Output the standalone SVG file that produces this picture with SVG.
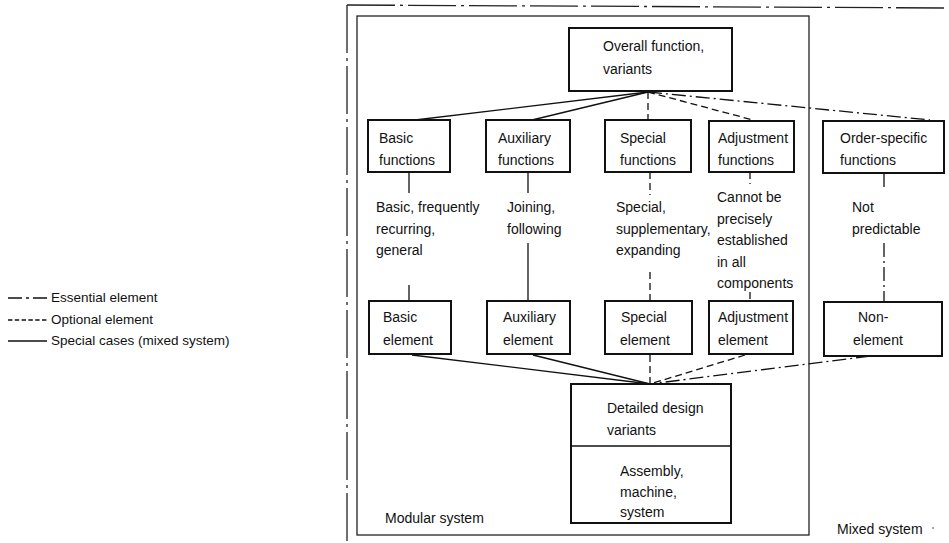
<svg xmlns="http://www.w3.org/2000/svg" width="949" height="543" viewBox="0 0 949 543">
  <style>
    text { font-family: "Liberation Sans", Arial, sans-serif; font-size: 14px; fill: #111; }
    .legend { font-size: 13.5px; }
    .box { fill: #fff; stroke: #111; stroke-width: 2; }
    .frame { fill: none; stroke: #222; stroke-width: 1.3; }
    .solid { fill: none; stroke: #111; stroke-width: 1.3; }
    .dash { fill: none; stroke: #111; stroke-width: 1.3; stroke-dasharray: 7 4; }
    .dashdot { fill: none; stroke: #111; stroke-width: 1.3; stroke-dasharray: 14 4 2 4; }
    .outer { fill: none; stroke: #222; stroke-width: 1.3; stroke-dasharray: 48 5 3 5; }
  </style>

  <!-- Legend -->
  <g id="legend">
    <path class="solid" d="M8 298 H22 M26 298 H29 M33 298 H47" />
    <text class="legend" x="51" y="302">Essential element</text>
    <path class="solid" stroke-dasharray="4.4 2.4" d="M8 320 H47" />
    <text class="legend" x="51" y="324">Optional element</text>
    <path class="solid" d="M8 341 H47" />
    <text class="legend" x="51" y="345">Special cases (mixed system)</text>
  </g>

  <!-- Mixed system frame (open on right and bottom) -->
  <g id="mixed-system">
    <path class="outer" d="M347 5 L949 8" />
    <path class="outer" d="M347 5 V543" />
    <text x="837" y="534">Mixed system</text>
    <circle cx="933" cy="528" r="0.8" fill="#333" />
  </g>

  <!-- Modular system frame -->
  <g id="modular-system">
    <rect class="frame" x="357" y="16" width="452" height="519" />
    <text x="385" y="523">Modular system</text>
  </g>

  <!-- Connectors -->
  <g id="connectors">
    <!-- overall function to function types -->
    <path class="solid" d="M648 92 L415 120" />
    <path class="solid" d="M648 92 L532 120" />
    <path class="dash" d="M648 92 V120" />
    <path class="dash" d="M648 92 L753 120" />
    <path class="dashdot" d="M648 92 L930 120" />

    <!-- function boxes down through their descriptions to elements -->
    <path class="solid" d="M409 172 V193 M409 285 V301" />
    <path class="solid" d="M528 172 V193 M528 243 V301" />
    <path class="dash" d="M650 172 V195 M650 272 V301" />
    <path class="dash" d="M750 172 V184 M750 292 V301" />
    <path class="dashdot" d="M884 173 V191 M884 243 V301" />

    <!-- elements to detailed design variants -->
    <path class="solid" d="M412 355 L650 384" />
    <path class="solid" d="M533 355 L650 384" />
    <path class="dash" d="M650 355 V384" />
    <path class="dash" d="M745 355 L650 384" />
    <path class="dashdot" d="M870 356 L650 384" />
  </g>

  <!-- Top node -->
  <g id="overall-function">
    <rect class="box" x="569" y="28" width="163" height="63" />
    <text x="603" y="51">Overall function,</text>
    <text x="603" y="74">variants</text>
  </g>

  <!-- Function types -->
  <g id="basic-functions">
    <rect class="box" x="368" y="120" width="82" height="52" />
    <text x="379" y="143">Basic</text>
    <text x="379" y="165">functions</text>
    <text x="376" y="212">Basic, frequently</text>
    <text x="376" y="233.5">recurring,</text>
    <text x="376" y="255">general</text>
  </g>

  <g id="auxiliary-functions">
    <rect class="box" x="486" y="120" width="84" height="52" />
    <text x="498" y="143">Auxiliary</text>
    <text x="498" y="165">functions</text>
    <text x="507" y="212">Joining,</text>
    <text x="507" y="233.5">following</text>
  </g>

  <g id="special-functions">
    <rect class="box" x="605" y="120" width="86" height="52" />
    <text x="620" y="143">Special</text>
    <text x="620" y="165">functions</text>
    <text x="616" y="212">Special,</text>
    <text x="616" y="233.5">supplementary,</text>
    <text x="616" y="255">expanding</text>
  </g>

  <g id="adjustment-functions">
    <rect class="box" x="709" y="121" width="85" height="51" />
    <text x="718" y="143">Adjustment</text>
    <text x="718" y="165">functions</text>
    <text x="717" y="202">Cannot be</text>
    <text x="717" y="223.5">precisely</text>
    <text x="717" y="245">established</text>
    <text x="717" y="266.5">in all</text>
    <text x="717" y="288">components</text>
  </g>

  <g id="order-specific-functions">
    <rect class="box" x="823" y="121" width="121" height="52" />
    <text x="840" y="143">Order-specific</text>
    <text x="840" y="165">functions</text>
    <text x="852" y="212">Not</text>
    <text x="852" y="233.5">predictable</text>
  </g>

  <!-- Element types -->
  <g id="basic-element">
    <rect class="box" x="369" y="301" width="82" height="53" />
    <text x="383" y="322">Basic</text>
    <text x="383" y="345">element</text>
  </g>

  <g id="auxiliary-element">
    <rect class="box" x="487" y="301" width="83" height="53" />
    <text x="503" y="322">Auxiliary</text>
    <text x="503" y="345">element</text>
  </g>

  <g id="special-element">
    <rect class="box" x="605" y="301" width="87" height="53" />
    <text x="621" y="322">Special</text>
    <text x="620" y="345">element</text>
  </g>

  <g id="adjustment-element">
    <rect class="box" x="709" y="301" width="84" height="53" />
    <text x="718" y="322">Adjustment</text>
    <text x="718" y="345">element</text>
  </g>

  <g id="non-element">
    <rect class="box" x="824" y="302" width="118" height="54" />
    <text x="858" y="322">Non-</text>
    <text x="853" y="345">element</text>
  </g>

  <!-- Result node -->
  <g id="detailed-design">
    <rect class="box" x="571" y="384" width="160" height="139" />
    <path class="solid" d="M571 446 H731" />
    <text x="607" y="413">Detailed design</text>
    <text x="607" y="435">variants</text>
    <text x="620" y="476">Assembly,</text>
    <text x="620" y="497">machine,</text>
    <text x="620" y="517">system</text>
  </g>
</svg>
